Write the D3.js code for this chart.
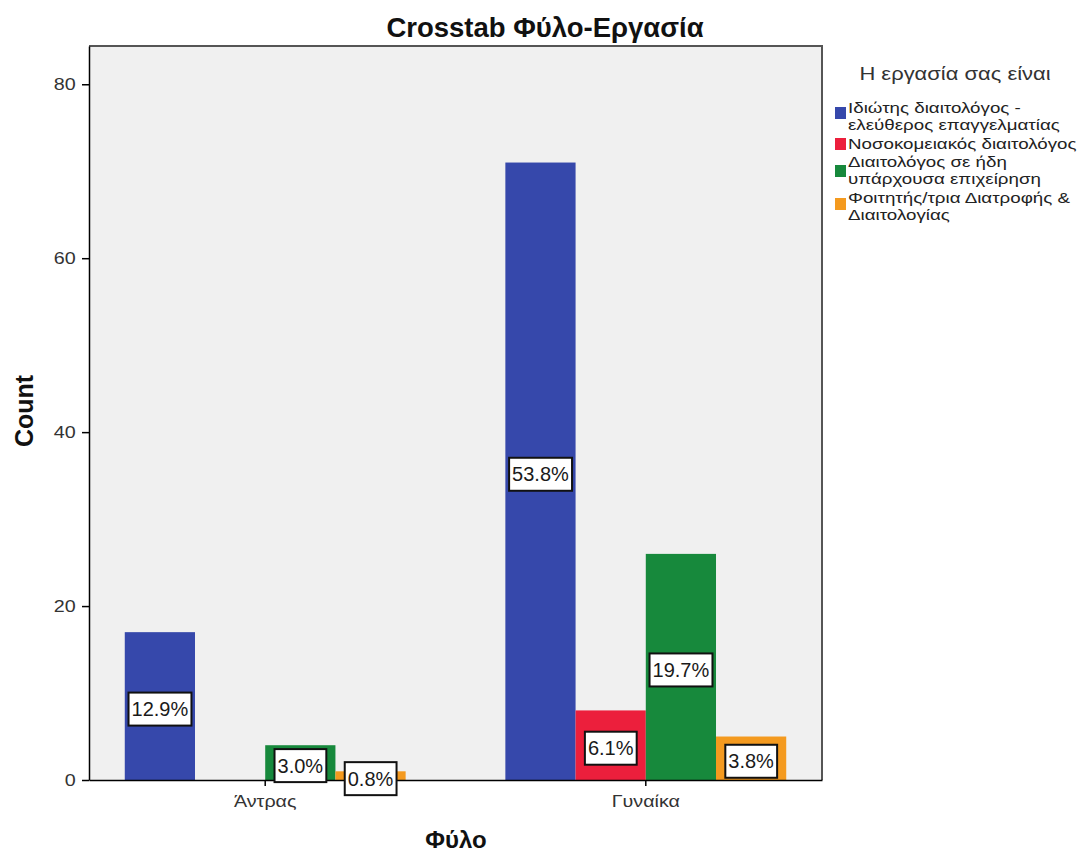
<!DOCTYPE html>
<html>
<head>
<meta charset="utf-8">
<script src="https://cdn.jsdelivr.net/npm/d3@7"></script>
<style>
  html, body { margin: 0; padding: 0; background: #ffffff; }
  svg { display: block; font-family: "Liberation Sans", Arial, sans-serif; }
</style>
</head>
<body>
<svg id="chart" width="1086" height="856"></svg>
<script>
// Gender categories on the x axis
const categories = ["Άντρας", "Γυναίκα"];

// Job groups (legend order), their legend lines and colours
const seriesKeys = ["private", "hospital", "business", "student"];
const seriesLegend = [
  ["Ιδιώτης διαιτολόγος -", "ελεύθερος επαγγελματίας"],
  ["Νοσοκομειακός διαιτολόγος"],
  ["Διαιτολόγος σε ήδη", "υπάρχουσα επιχείρηση"],
  ["Φοιτητής/τρια Διατροφής &", "Διαιτολογίας"]
];
const seriesColors = ["#3648ab", "#ec1f3c", "#17893c", "#f49a1f"];

// Counts per gender (Άντρας, Γυναίκα) for each job group
const privateCounts  = [17, 71];
const hospitalCounts = [0, 8];
const businessCounts = [4, 26];
const studentCounts  = [1, 5];

const yTicks = [0, 20, 40, 60, 80];
const yMax = 84.4;

const countsBySeries = [privateCounts, hospitalCounts, businessCounts, studentCounts];
const total = d3.sum(countsBySeries.flat());

const rows = [];
categories.forEach((cat, ci) => {
  seriesKeys.forEach((key, si) => {
    rows.push({ cat, key, si, value: countsBySeries[si][ci] });
  });
});

const svg = d3.select("#chart");
const plot = { left: 89, right: 822, top: 46, bottom: 780 };
const wide = 1.16; // horizontal stretch applied to the axis text

// Plot background
svg.append("rect")
  .attr("x", plot.left).attr("y", plot.top)
  .attr("width", plot.right - plot.left).attr("height", plot.bottom - plot.top)
  .attr("fill", "#f0f0f0");

const x = d3.scaleBand().domain(categories)
  .range([plot.left, plot.right]).paddingInner(0.262).paddingOuter(0.094);
const xs = d3.scaleBand().domain(seriesKeys).range([0, x.bandwidth()]);
const y = d3.scaleLinear().domain([0, yMax]).range([plot.bottom, plot.top]);

// Bars
svg.append("g").selectAll("rect")
  .data(rows.filter(d => d.value > 0))
  .join("rect")
  .attr("x", d => x(d.cat) + xs(d.key))
  .attr("y", d => y(d.value))
  .attr("width", xs.bandwidth())
  .attr("height", d => y(0) - y(d.value))
  .attr("fill", d => seriesColors[d.si]);

// Frame: top and right borders
svg.append("path")
  .attr("d", `M${plot.left},${plot.top}H${plot.right}V${plot.bottom}`)
  .attr("fill", "none").attr("stroke", "#555").attr("stroke-width", 2);

// Y axis
const yAxis = svg.append("g")
  .attr("transform", `translate(${plot.left},0)`)
  .call(d3.axisLeft(y).tickValues(yTicks).tickSize(7).tickPadding(3).tickSizeOuter(0));
yAxis.select(".domain").attr("stroke", "#000").attr("stroke-width", 1.5);
yAxis.selectAll(".tick line").attr("stroke", "#000").attr("stroke-width", 1.5);
yAxis.selectAll(".tick text")
  .attr("font-size", 17).attr("fill", "#333")
  .attr("font-family", "Liberation Sans, Arial, sans-serif")
  .attr("transform", function() {
    const tx = +d3.select(this).attr("x");
    return `translate(${tx * (wide - 1)},0) scale(${wide},1)`;
  });

// X axis
const xAxis = svg.append("g")
  .attr("transform", `translate(0,${plot.bottom})`)
  .call(d3.axisBottom(x).tickSize(6).tickPadding(9).tickSizeOuter(0));
xAxis.select(".domain").attr("stroke", "#000").attr("stroke-width", 1.5);
xAxis.selectAll(".tick line").attr("stroke", "#000").attr("stroke-width", 1.5);
xAxis.selectAll(".tick text")
  .attr("font-size", 17).attr("fill", "#333")
  .attr("font-family", "Liberation Sans, Arial, sans-serif")
  .attr("transform", `scale(${wide},1)`);

// Percentage labels in boxed tags
const labels = svg.append("g").selectAll("g")
  .data(rows.filter(d => d.value > 0))
  .join("g")
  .attr("transform", d => {
    const cx = x(d.cat) + xs(d.key) + xs.bandwidth() / 2;
    const cy = (y(d.value) + y(0)) / 2 + 3;
    return `translate(${cx},${cy})`;
  });
labels.append("text")
  .attr("text-anchor", "middle")
  .attr("dy", "0.36em")
  .attr("font-size", 20)
  .attr("fill", "#1a1a1a")
  .text(d => (d.value / total * 100).toFixed(1) + "%");
labels.each(function() {
  const g = d3.select(this);
  const bb = g.select("text").node().getBBox();
  g.insert("rect", "text")
    .attr("x", bb.x - 3).attr("y", -16.5)
    .attr("width", bb.width + 6).attr("height", 33)
    .attr("fill", "#fff").attr("stroke", "#111").attr("stroke-width", 2);
});

// Title
svg.append("text")
  .attr("x", 545).attr("y", 37)
  .attr("text-anchor", "middle")
  .attr("font-size", 27.5).attr("font-weight", "bold").attr("fill", "#111")
  .text("Crosstab Φύλο-Εργασία");

// Axis titles
svg.append("text")
  .attr("transform", "translate(33,411) rotate(-90)")
  .attr("text-anchor", "middle")
  .attr("font-size", 25).attr("font-weight", "bold").attr("fill", "#111")
  .text("Count");
svg.append("text")
  .attr("x", 456).attr("y", 848)
  .attr("text-anchor", "middle")
  .attr("font-size", 24).attr("font-weight", "bold").attr("fill", "#111")
  .text("Φύλο");

// Legend
const legend = svg.append("g");
legend.append("text")
  .attr("transform", `translate(955,80) scale(${1.22},1)`)
  .attr("text-anchor", "middle")
  .attr("font-size", 18).attr("fill", "#333")
  .text("Η εργασία σας είναι");

const legendBase = [113, 149, 167, 203];
const swatchTop = [107, 138, 165, 198];
seriesLegend.forEach((lines, i) => {
  const g = legend.append("g");
  g.append("rect")
    .attr("x", 835).attr("y", swatchTop[i])
    .attr("width", 11).attr("height", 12)
    .attr("fill", seriesColors[i]);
  lines.forEach((line, li) => {
    g.append("text")
      .attr("transform", `translate(848,${legendBase[i] + li * 17}) scale(${1.25},1)`)
      .attr("font-size", 15).attr("fill", "#222")
      .text(line);
  });
});
</script>
</body>
</html>
